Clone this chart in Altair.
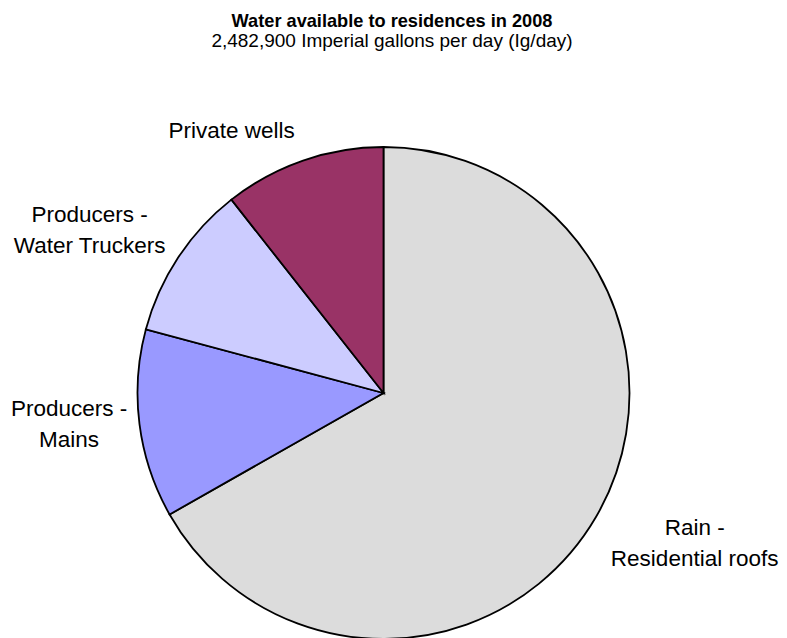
import altair as alt
import pandas as pd

# ---- data ----
categories = ["Rain - Residential roofs", "Producers - Mains",
              "Producers - Water Truckers", "Private wells"]
labels = ["Rain -\nResidential roofs", "Producers -\nMains",
          "Producers -\nWater Truckers", "Private wells"]
values = [1658100, 307600, 253800, 263400]   # Ig/day, total 2,482,900
colors = ["#dcdcdc", "#9999ff", "#ccccff", "#993366"]

df = pd.DataFrame({"category": categories, "label": labels,
                   "value": values, "order": list(range(len(categories)))})
total = sum(values)

CX, CY = 375.5, 290
FONT = "Liberation Sans"
theta_scale = alt.Scale(domain=[0, total])

base = alt.Chart(df).transform_window(
    cum="sum(value)", sort=[alt.SortField("order")]
).transform_calculate(
    v0="datum.cum - datum.value",
    mid="datum.cum - datum.value / 2",
)

pie = base.mark_arc(outerRadius=246, stroke="black", strokeWidth=1.8).encode(
    theta=alt.Theta("v0:Q", scale=theta_scale),
    theta2="cum:Q",
    x=alt.value(CX),
    y=alt.value(CY),
    color=alt.Color("category:N",
                    scale=alt.Scale(domain=categories, range=colors),
                    legend=None),
)

# label placement (radius, dx, dy) per category
label_pos = [(345, 13, -39), (316, -1, -24), (282, -58.5, -22.5), (290, -57, 12)]

layers = [pie]
for cat, (r, dx, dy) in zip(categories, label_pos):
    layers.append(
        base.transform_filter(alt.datum.category == cat).mark_text(
            radius=r, dx=dx, dy=dy, font=FONT, fontSize=22.5,
            lineBreak="\n", lineHeight=31, align="center",
            baseline="middle", color="black").encode(
            theta=alt.Theta("mid:Q", scale=theta_scale),
            x=alt.value(CX),
            y=alt.value(CY),
            text=alt.Text("label:N"),
        )
    )

chart = alt.layer(*layers).properties(
    width=771,
    height=545,
    padding={"left": 0, "top": 95, "right": 0, "bottom": 0},
    autosize=alt.AutoSizeParams(type="none"),
    title=alt.TitleParams(
        text="Water available to residences in 2008",
        subtitle="2,482,900 Imperial gallons per day (Ig/day)",
        font=FONT, fontSize=18.2, fontWeight="bold", color="black",
        subtitleFont=FONT, subtitleFontSize=19, subtitleColor="black",
        anchor="middle", frame="group", offset=51.5, subtitlePadding=0,
        dx=-1.5,
    ),
).configure_view(stroke=None)

chart.save("out.html", embed_options={"renderer": "svg", "actions": False})
